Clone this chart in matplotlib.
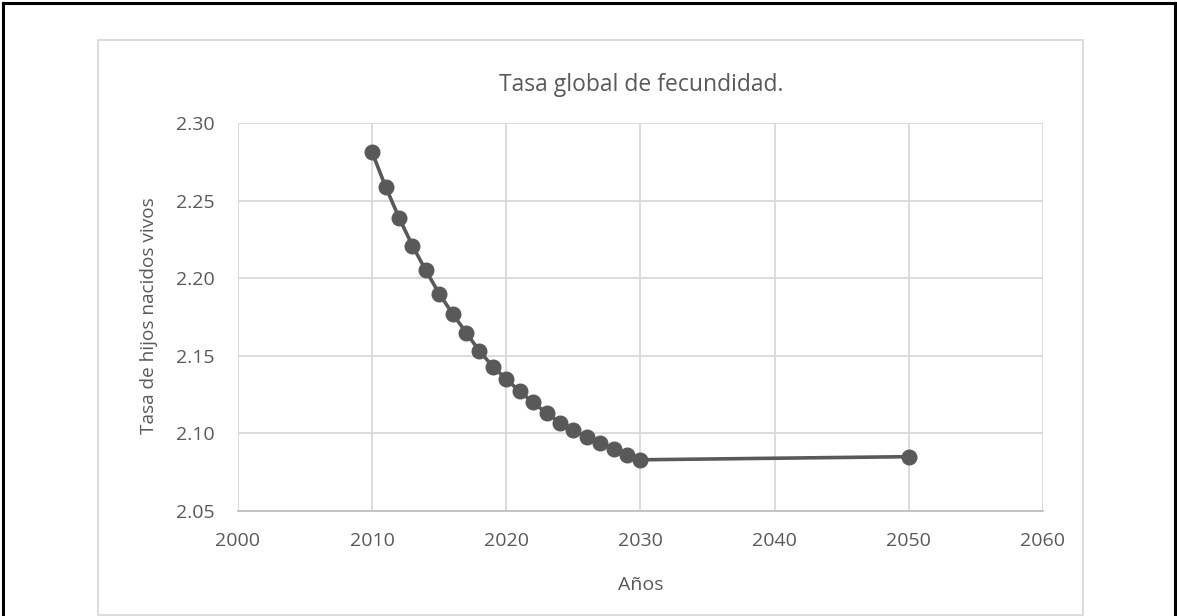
import matplotlib.pyplot as plt
from matplotlib.patches import Rectangle
from matplotlib.lines import Line2D

plt.rcParams['font.family'] = ['Open Sans', 'DejaVu Sans']

# Tasa global de fecundidad
years = [2010, 2011, 2012, 2013, 2014, 2015, 2016, 2017, 2018, 2019,
         2020, 2021, 2022, 2023, 2024, 2025, 2026, 2027, 2028, 2029,
         2030, 2050]
tgf = [2.281, 2.259, 2.239, 2.221, 2.205, 2.190, 2.177, 2.165, 2.153, 2.143,
       2.135, 2.127, 2.120, 2.113, 2.107, 2.102, 2.098, 2.094, 2.090, 2.086,
       2.083, 2.085]

x_ticks = [2000, 2010, 2020, 2030, 2040, 2050, 2060]
y_ticks = [2.05, 2.10, 2.15, 2.20, 2.25, 2.30]

W, H = 1177, 616
text_col = '#595959'
grid_col = '#D9D9D9'

fig = plt.figure(figsize=(W / 100, H / 100), dpi=100)
fig.patch.set_facecolor('white')

# outer black frame (bottom edge is cut off in the original)
for xs, ys in [([3 / W, 3 / W], [0, 1 - 3 / H]),
               ([3 / W, 1175 / W], [1 - 3 / H, 1 - 3 / H]),
               ([1175 / W, 1175 / W], [0, 1 - 3 / H])]:
    fig.add_artist(Line2D(xs, ys, color='black', lw=2.2, transform=fig.transFigure))

# chart area border
fig.add_artist(Rectangle((98 / W, 1 - 615 / H), (1083 - 98) / W, (615 - 40) / H,
                         transform=fig.transFigure, fill=False,
                         edgecolor=grid_col, lw=1.3))

ax = fig.add_axes([238 / W, 1 - 511 / H, (1043 - 238) / W, (511 - 123) / H])
ax.plot(years, tgf, color='#595959', lw=2.6, marker='o', markersize=10.5,
        markerfacecolor='#595959', markeredgecolor='#595959', zorder=3)

ax.set_xlim(2000, 2060)
ax.set_ylim(2.05, 2.30)
ax.set_xticks(x_ticks)
ax.set_yticks(y_ticks)
ax.set_yticklabels([f'{v:.2f}' for v in y_ticks])
ax.grid(True, color=grid_col, lw=1.3, zorder=0)
for s in ax.spines.values():
    s.set_visible(False)
ax.spines['bottom'].set_visible(True)
ax.spines['bottom'].set_color('#BFBFBF')
ax.spines['bottom'].set_linewidth(1.3)
ax.tick_params(length=0, labelsize=14, labelcolor=text_col)
ax.tick_params(axis='y', pad=17)
ax.tick_params(axis='x', pad=15)

# titles placed where they sit in the reference
fig.text(641 / W, 1 - 85 / H, 'Tasa global de fecundidad.', fontsize=16.5,
         color=text_col, ha='center', va='center')
fig.text(641 / W, 1 - 585 / H, 'Años', fontsize=14, color=text_col,
         ha='center', va='center')
fig.text(149 / W, 1 - 316 / H, 'Tasa de hijos nacidos vivos', fontsize=13.7,
         color=text_col, ha='center', va='center', rotation=90)

fig.savefig('out.png', dpi=100)
